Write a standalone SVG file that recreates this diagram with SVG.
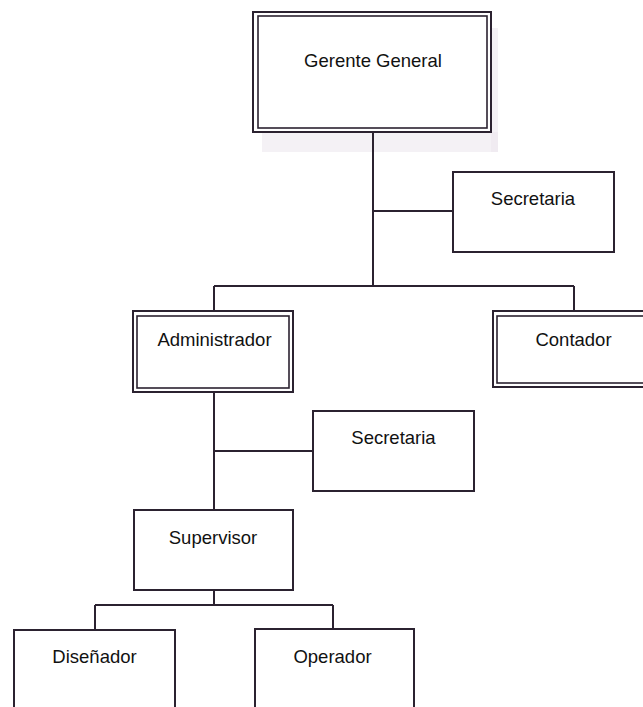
<svg xmlns="http://www.w3.org/2000/svg" width="643" height="707" viewBox="0 0 643 707">
<style>
.bx{fill:#ffffff;stroke:#2b2230;stroke-width:2}
.in{fill:none;stroke:#2b2230;stroke-width:1.6}
.ln{fill:none;stroke:#2b2230;stroke-width:2}
.t{font-family:"Liberation Sans",Arial,sans-serif;font-size:18.5px;fill:#111111;text-anchor:middle}
</style>
<rect width="643" height="707" fill="#ffffff"/>
<rect x="262" y="132" width="236" height="20" fill="#ece8ee" opacity="0.6"/>
<rect x="491" y="28" width="7" height="124" fill="#ece8ee" opacity="0.6"/>
<g id="connectors">
<path class="ln" d="M373 132 V286 M373 211 H453 M214 286 H574 M214 286 V311 M574 286 V311"/>
<path class="ln" d="M214 392 V510 M214 451 H313"/>
<path class="ln" d="M214 590 V605 M95 605 H333 M95 605 V630 M333 605 V629"/>
</g>
<g id="gerente">
<rect class="bx" x="253" y="12" width="238" height="120"/>
<rect class="in" x="258" y="16" width="229" height="112"/>
<text class="t" x="373" y="67">Gerente General</text>
</g>
<g id="secretaria1">
<rect class="bx" x="453" y="172" width="161" height="80"/>
<text class="t" x="533" y="205">Secretaria</text>
</g>
<g id="administrador">
<rect class="bx" x="133" y="311" width="160" height="81"/>
<rect class="in" x="137" y="316" width="152" height="72"/>
<text class="t" x="214.5" y="346">Administrador</text>
</g>
<g id="contador">
<rect class="bx" x="493" y="311" width="160" height="76"/>
<rect class="in" x="497" y="316" width="152" height="67"/>
<text class="t" x="573.5" y="346">Contador</text>
</g>
<g id="secretaria2">
<rect class="bx" x="313" y="411" width="161" height="80"/>
<text class="t" x="393.5" y="444">Secretaria</text>
</g>
<g id="supervisor">
<rect class="bx" x="134" y="510" width="159" height="80"/>
<text class="t" x="213" y="544">Supervisor</text>
</g>
<g id="disenador">
<rect class="bx" x="14" y="630" width="161" height="90"/>
<text class="t" x="94.5" y="663">Diseñador</text>
</g>
<g id="operador">
<rect class="bx" x="255" y="629" width="159" height="91"/>
<text class="t" x="332.5" y="663">Operador</text>
</g>
</svg>
